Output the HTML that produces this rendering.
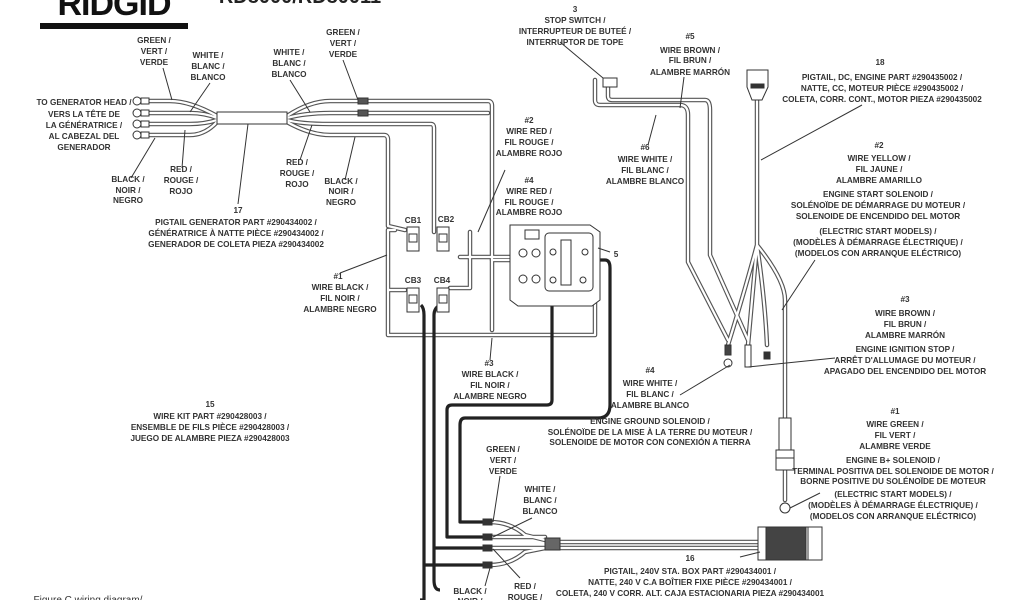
<!DOCTYPE html>
<html><head><meta charset="utf-8"><style>
html,body{margin:0;padding:0;background:#fff;width:1024px;height:600px;overflow:hidden}
svg text{font-family:"Liberation Sans Narrow","Liberation Sans",sans-serif;font-size:8.2px;font-weight:bold;fill:#333;text-anchor:middle}
.w{fill:none;stroke:#555;stroke-width:4.5;stroke-linejoin:round;stroke-linecap:round}
.wi{fill:none;stroke:#fff;stroke-width:2.2;stroke-linejoin:round;stroke-linecap:round}
.k{fill:none;stroke:#222;stroke-width:3.2;stroke-linejoin:round}
.l{fill:none;stroke:#333;stroke-width:1}
</style></head><body>
<svg width="1024" height="600" viewBox="0 0 1024 600" xmlns="http://www.w3.org/2000/svg">
<!-- logo -->
<text x="114" y="15" style="font-size:34px;font-family:'Liberation Sans',sans-serif;font-weight:900;fill:#111;letter-spacing:-1px">RIDGID</text>
<rect x="40" y="23" width="148" height="6" fill="#111"/>
<text x="300" y="3" style="font-size:20px;font-family:'Liberation Sans',sans-serif;fill:#222">RD8000/RD80011</text>

<g class="w">
<path d="M150 101 H170 Q190 101 217 116 M150 113 H190 Q205 113 217 118 M150 124 H190 Q205 124 217 120 M150 135 H190 Q205 135 217 122"/>
<path d="M287 116 Q310 101 330 101 H488 Q492 101 492 106 V330 M287 118 Q305 113 330 113 H488 M287 120 Q300 124 330 124 H431 Q434 124 434 128 V232 M287 122 Q310 135 330 135 H384 Q388 135 388 140 V226 L405 230"/>
<path d="M492 260 H515 M460 257 H548 M395 230 H388 V335 H595 V260 M470 232 V288 H450 M388 290 H405"/>
<path d="M595 80 V100 Q595 105 600 105 H680 Q688 105 688 115 V262 L728 340 M608 80 V96 Q608 100 612 100 H705 Q710 100 710 110 V255 L748 340"/>
<path d="M757 100 V245 M757 245 Q745 290 728 345 M757 245 Q752 300 748 345 M757 245 Q765 300 767 345 M757 245 Q785 280 785 300 V500"/>
<path d="M560 542 H758 M560 548 H758"/>
<path d="M490 522 Q510 522 525 535 L545 540 M490 537 H545 M490 548 H545 M490 565 Q510 565 525 552 L545 548"/>
</g>
<g class="wi">
<path d="M150 101 H170 Q190 101 217 116 M150 113 H190 Q205 113 217 118 M150 124 H190 Q205 124 217 120 M150 135 H190 Q205 135 217 122"/>
<path d="M287 116 Q310 101 330 101 H488 Q492 101 492 106 V330 M287 118 Q305 113 330 113 H488 M287 120 Q300 124 330 124 H431 Q434 124 434 128 V232 M287 122 Q310 135 330 135 H384 Q388 135 388 140 V226 L405 230"/>
<path d="M492 260 H515 M460 257 H548 M395 230 H388 V335 H595 V260 M470 232 V288 H450 M388 290 H405"/>
<path d="M595 80 V100 Q595 105 600 105 H680 Q688 105 688 115 V262 L728 340 M608 80 V96 Q608 100 612 100 H705 Q710 100 710 110 V255 L748 340"/>
<path d="M757 100 V245 M757 245 Q745 290 728 345 M757 245 Q752 300 748 345 M757 245 Q765 300 767 345 M757 245 Q785 280 785 300 V500"/>
<path d="M560 542 H758 M560 548 H758"/>
<path d="M490 522 Q510 522 525 535 L545 540 M490 537 H545 M490 548 H545 M490 565 Q510 565 525 552 L545 548"/>
</g>
<g class="k">
<path d="M421 305 Q424 308 424 315 V600 H420"/>
<path d="M440 305 Q434 308 434 315 V580 Q434 590 440 590"/>
<path d="M424 565 H486 M434 548 H486"/>
<path d="M552 262 V400 Q552 405 547 405 H452 Q447 405 447 410 V537 H486"/>
<path d="M598 260 H605 Q610 260 610 268 V405 Q610 418 598 418 H465 Q460 418 460 425 V522 H486"/>
</g>
<g fill="#fff" stroke="#333" stroke-width="1">
<circle cx="137" cy="101" r="4"/><circle cx="137" cy="113" r="4"/><circle cx="137" cy="124" r="4"/><circle cx="137" cy="135" r="4"/>
<rect x="141" y="98" width="8" height="6"/><rect x="141" y="110" width="8" height="6"/><rect x="141" y="121" width="8" height="6"/><rect x="141" y="132" width="8" height="6"/>
<rect x="217" y="112" width="70" height="12"/>
<rect x="358" y="98" width="10" height="6" fill="#555"/><rect x="358" y="110" width="10" height="6" fill="#555"/>
<rect x="407" y="227" width="12" height="24"/><rect x="437" y="227" width="12" height="24"/>
<rect x="407" y="288" width="12" height="24"/><rect x="437" y="288" width="12" height="24"/>
<rect x="409" y="234" width="8" height="8"/><rect x="439" y="234" width="8" height="8"/><rect x="409" y="295" width="8" height="8"/><rect x="439" y="295" width="8" height="8"/>
<path d="M510 225 H590 L600 232 V300 L592 306 H518 L510 300 Z"/>
<rect x="525" y="230" width="14" height="9"/>
<circle cx="523" cy="253" r="4"/><circle cx="536" cy="253" r="4"/><circle cx="523" cy="279" r="4"/><circle cx="536" cy="279" r="4"/>
<rect x="545" y="233" width="48" height="58" rx="4"/>
<rect x="561" y="240" width="10" height="45"/>
<circle cx="553" cy="252" r="3"/><circle cx="585" cy="252" r="3"/><circle cx="553" cy="280" r="3"/><circle cx="583" cy="280" r="3"/>
<rect x="603" y="78" width="14" height="9"/>
<path d="M747 70 H768 V87 L762 100 H752 L747 87 Z"/>
<rect x="751" y="84" width="13" height="4" fill="#333"/>
<circle cx="728" cy="363" r="4"/><rect x="725" y="345" width="6" height="10" fill="#444"/>
<rect x="745" y="345" width="6" height="22"/>
<rect x="764" y="352" width="6" height="7" fill="#333"/>
<rect x="779" y="418" width="12" height="32"/>
<rect x="776" y="450" width="18" height="20"/><line x1="776" y1="458" x2="794" y2="458"/>
<circle cx="785" cy="508" r="5"/>
<rect x="483" y="519" width="9" height="6" fill="#333"/><rect x="483" y="534" width="9" height="6" fill="#333"/><rect x="483" y="545" width="9" height="6" fill="#333"/><rect x="483" y="562" width="9" height="6" fill="#333"/>
<rect x="545" y="538" width="15" height="12" fill="#666"/>
<rect x="758" y="527" width="50" height="33" fill="#fff"/>
<rect x="766" y="527" width="40" height="33" fill="#444"/>
<rect x="808" y="527" width="14" height="33" fill="#fff"/>
</g>
<g class="l">
<path d="M163 68 L172 100 M210 83 L190 112 M131 178 L155 138 M182 168 L185 130 M238 204 L248 124"/>
<path d="M290 80 L310 112 M343 60 L358 100 M300 160 L312 125 M345 180 L355 137"/>
<path d="M340 273 L387 255 M478 232 L505 170 M490 360 L492 338 M560 42 L603 78 M684 77 L680 108 M648 145 L656 115"/>
<path d="M610 252 L598 248 M862 105 L761 160 M815 260 L782 310 M835 358 L748 367 M680 395 L730 365 M820 493 L790 508 M740 557 L760 552"/>
<path d="M500 476 L493 522 M532 518 L493 537 M485 586 L490 568 M520 578 L493 549"/>
</g>
<text x="154" y="43">GREEN /</text><text x="154" y="54">VERT /</text><text x="154" y="65">VERDE</text>
<text x="208" y="58">WHITE /</text><text x="208" y="69">BLANC /</text><text x="208" y="80">BLANCO</text>
<text x="84" y="105">TO GENERATOR HEAD /</text><text x="84" y="117">VERS LA TÊTE DE</text><text x="84" y="128">LA GÉNÉRATRICE /</text><text x="84" y="139">AL CABEZAL DEL</text><text x="84" y="150">GENERADOR</text>
<text x="128" y="182">BLACK /</text><text x="128" y="193">NOIR /</text><text x="128" y="203">NEGRO</text>
<text x="181" y="172">RED /</text><text x="181" y="183">ROUGE /</text><text x="181" y="194">ROJO</text>
<text x="289" y="55">WHITE /</text><text x="289" y="66">BLANC /</text><text x="289" y="77">BLANCO</text>
<text x="343" y="35">GREEN /</text><text x="343" y="46">VERT /</text><text x="343" y="57">VERDE</text>
<text x="297" y="165">RED /</text><text x="297" y="176">ROUGE /</text><text x="297" y="187">ROJO</text>
<text x="341" y="184">BLACK /</text><text x="341" y="194">NOIR /</text><text x="341" y="205">NEGRO</text>
<text x="238" y="213">17</text>
<text x="236" y="225">PIGTAIL GENERATOR PART #290434002 /</text><text x="236" y="236">GÉNÉRATRICE À NATTE PIÈCE #290434002 /</text><text x="236" y="247">GENERADOR DE COLETA PIEZA #290434002</text>
<text x="413" y="223">CB1</text><text x="446" y="222">CB2</text><text x="413" y="283">CB3</text><text x="442" y="283">CB4</text>
<text x="338" y="279">#1</text><text x="340" y="290">WIRE BLACK /</text><text x="340" y="301">FIL NOIR /</text><text x="340" y="312">ALAMBRE NEGRO</text>
<text x="210" y="407">15</text><text x="210" y="419">WIRE KIT PART #290428003 /</text><text x="210" y="430">ENSEMBLE DE FILS PIÈCE #290428003 /</text><text x="210" y="441">JUEGO DE ALAMBRE PIEZA #290428003</text>
<text x="575" y="12">3</text><text x="575" y="23">STOP SWITCH /</text><text x="575" y="34">INTERRUPTEUR DE BUTEÉ /</text><text x="575" y="45">INTERRUPTOR DE TOPE</text>
<text x="529" y="123">#2</text><text x="529" y="134">WIRE RED /</text><text x="529" y="145">FIL ROUGE /</text><text x="529" y="156">ALAMBRE ROJO</text>
<text x="529" y="183">#4</text><text x="529" y="194">WIRE RED /</text><text x="529" y="205">FIL ROUGE /</text><text x="529" y="215">ALAMBRE ROJO</text>
<text x="616" y="257">5</text>
<text x="489" y="366">#3</text><text x="490" y="377">WIRE BLACK /</text><text x="490" y="388">FIL NOIR /</text><text x="490" y="399">ALAMBRE NEGRO</text>
<text x="690" y="39">#5</text><text x="690" y="53">WIRE BROWN /</text><text x="690" y="63">FIL BRUN /</text><text x="690" y="75">ALAMBRE MARRÓN</text>
<text x="645" y="150">#6</text><text x="645" y="162">WIRE WHITE /</text><text x="645" y="173">FIL BLANC /</text><text x="645" y="184">ALAMBRE BLANCO</text>
<text x="880" y="65">18</text>
<text x="882" y="80">PIGTAIL, DC, ENGINE PART #290435002 /</text><text x="882" y="91">NATTE, CC, MOTEUR PIÈCE #290435002 /</text><text x="882" y="102">COLETA, CORR. CONT., MOTOR PIEZA #290435002</text>
<text x="879" y="148">#2</text><text x="879" y="161">WIRE YELLOW /</text><text x="879" y="172">FIL JAUNE /</text><text x="879" y="183">ALAMBRE AMARILLO</text>
<text x="878" y="197">ENGINE START SOLENOID /</text><text x="878" y="208">SOLÉNOÏDE DE DÉMARRAGE DU MOTEUR /</text><text x="878" y="219">SOLENOIDE DE ENCENDIDO DEL MOTOR</text>
<text x="878" y="234">(ELECTRIC START MODELS) /</text><text x="878" y="245">(MODÈLES À DÉMARRAGE ÉLECTRIQUE) /</text><text x="878" y="256">(MODELOS CON ARRANQUE ELÉCTRICO)</text>
<text x="905" y="302">#3</text><text x="905" y="316">WIRE BROWN /</text><text x="905" y="327">FIL BRUN /</text><text x="905" y="338">ALAMBRE MARRÓN</text>
<text x="905" y="352">ENGINE IGNITION STOP /</text><text x="905" y="363">ARRÊT D'ALLUMAGE DU MOTEUR /</text><text x="905" y="374">APAGADO DEL ENCENDIDO DEL MOTOR</text>
<text x="650" y="373">#4</text><text x="650" y="386">WIRE WHITE /</text><text x="650" y="397">FIL BLANC /</text><text x="650" y="408">ALAMBRE BLANCO</text>
<text x="650" y="424">ENGINE GROUND SOLENOID /</text><text x="650" y="435">SOLÉNOÏDE DE LA MISE À LA TERRE DU MOTEUR /</text><text x="650" y="445">SOLENOIDE DE MOTOR CON CONEXIÓN A TIERRA</text>
<text x="895" y="414">#1</text><text x="895" y="427">WIRE GREEN /</text><text x="895" y="438">FIL VERT /</text><text x="895" y="449">ALAMBRE VERDE</text>
<text x="893" y="463">ENGINE B+ SOLENOID /</text><text x="893" y="474">TERMINAL POSITIVA DEL SOLENOIDE DE MOTOR /</text><text x="893" y="484">BORNE POSITIVE DU SOLÉNOÏDE DE MOTEUR</text>
<text x="893" y="497">(ELECTRIC START MODELS) /</text><text x="893" y="508">(MODÈLES À DÉMARRAGE ÉLECTRIQUE) /</text><text x="893" y="519">(MODELOS CON ARRANQUE ELÉCTRICO)</text>
<text x="503" y="452">GREEN /</text><text x="503" y="463">VERT /</text><text x="503" y="474">VERDE</text>
<text x="540" y="492">WHITE /</text><text x="540" y="503">BLANC /</text><text x="540" y="514">BLANCO</text>
<text x="690" y="561">16</text>
<text x="690" y="574">PIGTAIL, 240V STA. BOX PART #290434001 /</text><text x="690" y="585">NATTE, 240 V C.A BOÎTIER FIXE PIÈCE #290434001 /</text><text x="690" y="596">COLETA, 240 V CORR. ALT. CAJA ESTACIONARIA PIEZA #290434001</text>
<text x="470" y="594">BLACK /</text><text x="470" y="604">NOIR /</text>
<text x="525" y="589">RED /</text><text x="525" y="600">ROUGE /</text>
<text x="88" y="603" style="font-weight:normal;font-size:10px">Figure C wiring diagram/</text>
</svg>
</body></html>
